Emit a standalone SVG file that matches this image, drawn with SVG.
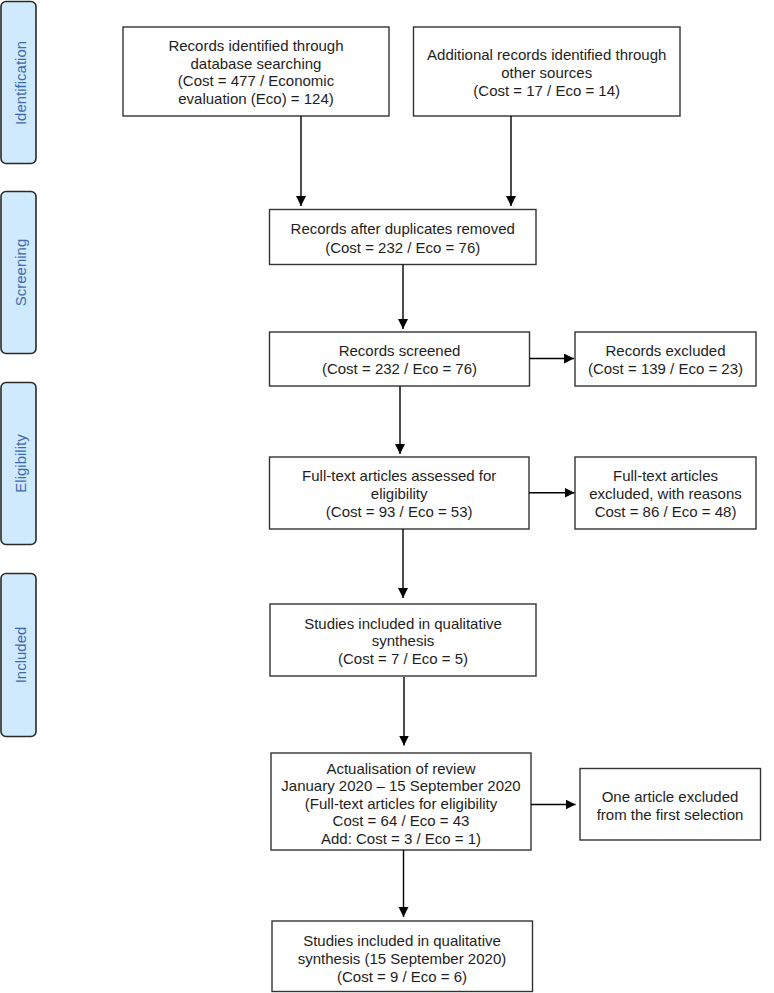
<svg xmlns="http://www.w3.org/2000/svg" width="774" height="993" viewBox="0 0 774 993">
<style>
.box{fill:#fff;stroke:#333;stroke-width:1.4}
.side{fill:#cfeafc;stroke:#2a2a2a;stroke-width:1.6}
.t{font-family:"Liberation Sans",Arial,sans-serif;font-size:15px;fill:#1e1e1e;text-anchor:middle}
.s{font-family:"Liberation Sans",Arial,sans-serif;font-size:15px;fill:#3f68ae;text-anchor:middle}
.c{stroke:#000;stroke-width:1.4;fill:none;marker-end:url(#ah)}
</style>
<defs>
<marker id="ah" markerUnits="userSpaceOnUse" markerWidth="11" markerHeight="11" refX="10" refY="5" orient="auto">
<path d="M0,0 L10,5 L0,10 z" fill="#000"/>
</marker>
</defs>
<rect width="774" height="993" fill="#fff"/>
<g id="side-identification"><rect class="side" x="1" y="1.5" width="35" height="162" rx="5"/><text class="s" transform="translate(25.5,83) rotate(-90)">Identification</text></g>
<g id="side-screening"><rect class="side" x="1" y="191.5" width="35" height="162" rx="5"/><text class="s" transform="translate(25.5,272.5) rotate(-90)">Screening</text></g>
<g id="side-eligibility"><rect class="side" x="1" y="382.5" width="35" height="162" rx="5"/><text class="s" transform="translate(25.5,463.5) rotate(-90)">Eligibility</text></g>
<g id="side-included"><rect class="side" x="1" y="573.5" width="35" height="163" rx="5"/><text class="s" transform="translate(25.5,655) rotate(-90)">Included</text></g>

<g id="n-db"><rect class="box" x="123" y="27" width="266" height="89"/>
<text class="t" x="256" y="51">Records identified through</text>
<text class="t" x="256" y="68.5">database searching</text>
<text class="t" x="256" y="86">(Cost = 477 / Economic</text>
<text class="t" x="256" y="104">evaluation (Eco) = 124)</text></g>

<g id="n-other"><rect class="box" x="413.5" y="27" width="266.5" height="89"/>
<text class="t" x="546.7" y="59.5">Additional records identified through</text>
<text class="t" x="546.7" y="77.5">other sources</text>
<text class="t" x="546.7" y="95.5">(Cost = 17 / Eco = 14)</text></g>

<g id="n-dup"><rect class="box" x="269.5" y="209.5" width="266.5" height="55"/>
<text class="t" x="402.7" y="233.5">Records after duplicates removed</text>
<text class="t" x="402.7" y="252.5">(Cost = 232 / Eco = 76)</text></g>

<g id="n-screened"><rect class="box" x="269.5" y="332" width="260" height="54"/>
<text class="t" x="399.5" y="356">Records screened</text>
<text class="t" x="399.5" y="374">(Cost = 232 / Eco = 76)</text></g>

<g id="n-excluded"><rect class="box" x="575" y="332" width="181" height="54"/>
<text class="t" x="665.5" y="356">Records excluded</text>
<text class="t" x="665.5" y="374">(Cost = 139 / Eco = 23)</text></g>

<g id="n-fulltext"><rect class="box" x="269.5" y="457" width="259.5" height="72"/>
<text class="t" x="399.2" y="481">Full-text articles assessed for</text>
<text class="t" x="399.2" y="498.5">eligibility</text>
<text class="t" x="399.2" y="516.5">(Cost = 93 / Eco = 53)</text></g>

<g id="n-ftexcluded"><rect class="box" x="575" y="457" width="181" height="72"/>
<text class="t" x="665.5" y="481">Full-text articles</text>
<text class="t" x="665.5" y="498.5">excluded, with reasons</text>
<text class="t" x="665.5" y="516.5">Cost = 86 / Eco = 48)</text></g>

<g id="n-studies"><rect class="box" x="270" y="604" width="266" height="72"/>
<text class="t" x="403" y="628.5">Studies included in qualitative</text>
<text class="t" x="403" y="646">synthesis</text>
<text class="t" x="403" y="663.5">(Cost = 7 / Eco = 5)</text></g>

<g id="n-actual"><rect class="box" x="271" y="753" width="260" height="97"/>
<text class="t" x="401" y="773.5">Actualisation of review</text>
<text class="t" x="401" y="791">January 2020 – 15 September 2020</text>
<text class="t" x="401" y="808.5">(Full-text articles for eligibility</text>
<text class="t" x="401" y="826">Cost = 64 / Eco = 43</text>
<text class="t" x="401" y="844">Add: Cost = 3 / Eco = 1)</text></g>

<g id="n-one"><rect class="box" x="580" y="768.5" width="180.5" height="71.5"/>
<text class="t" x="670" y="802">One article excluded</text>
<text class="t" x="670" y="819.5">from the first selection</text></g>

<g id="n-final"><rect class="box" x="272" y="921" width="260.5" height="70.5"/>
<text class="t" x="402" y="946">Studies included in qualitative</text>
<text class="t" x="402" y="964">synthesis (15 September 2020)</text>
<text class="t" x="402" y="981.5">(Cost = 9 / Eco = 6)</text></g>

<g id="connectors">
<line class="c" x1="301" y1="116" x2="301" y2="206"/>
<line class="c" x1="511" y1="116" x2="511" y2="206"/>
<line class="c" x1="403" y1="264.5" x2="403" y2="329"/>
<line class="c" x1="529.5" y1="358.5" x2="574" y2="358.5"/>
<line class="c" x1="400" y1="386" x2="400" y2="454"/>
<line class="c" x1="529" y1="492.7" x2="574.5" y2="492.7"/>
<line class="c" x1="403" y1="529" x2="403" y2="598"/>
<line class="c" x1="404" y1="677" x2="404" y2="745.5"/>
<line class="c" x1="531" y1="804.5" x2="575.5" y2="804.5"/>
<line class="c" x1="403.5" y1="850" x2="403.5" y2="917"/>
</g>
</svg>
